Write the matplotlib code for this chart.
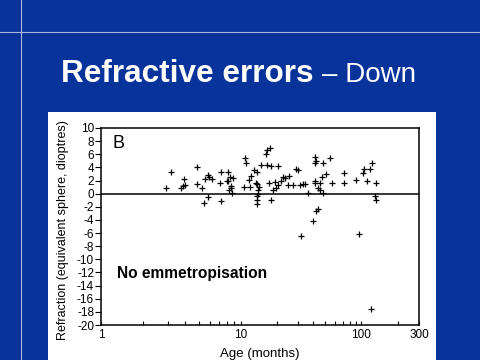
import numpy as np
import matplotlib
matplotlib.use('Agg')
import matplotlib.pyplot as plt
from matplotlib.patches import Rectangle
from matplotlib.lines import Line2D
from matplotlib.ticker import FixedLocator, NullFormatter

plt.rcParams['font.family'] = ['Liberation Sans', 'DejaVu Sans']
plt.rcParams['axes.unicode_minus'] = False

# age in months, refraction in dioptres
ages = [2.9, 3.17, 3.72, 3.85, 3.95, 3.99, 4.86, 4.89, 5.34, 5.49, 5.61, 5.8, 5.8, 6.2,
        5.96, 7.14, 7.23, 7.23, 8.15, 8.07, 8.28, 8.52, 8.85, 8.62, 8.38, 7.94, 8.48,
        10.9, 11.0, 10.6, 11.9, 11.8, 12.3, 12.9, 13.6, 13.4, 13.8, 14.7, 14.2, 14.0,
        13.9, 13.6, 13.6, 13.6,
        16.7, 18.0, 20.5, 16.4, 16.7, 17.5, 17.2, 19.2, 18.6, 19.5, 18.0,
        21.8, 22.5, 23.5, 25.2, 24.7, 27.2, 28.6, 29.9, 30.9, 34.0, 36.2, 31.5,
        42.5, 43.8, 39.8, 41.1, 41.1, 42.5, 48.2, 54.7, 51.4, 47.6, 41.1, 41.1, 45.2,
        43.8, 45.2, 48.2, 57.6,
        71.4, 71.4, 91.0, 103, 106, 117, 123, 111, 131, 129, 133, 95.5, 121,
        32.9, 20.5]
refraction = [0.9, 3.3, 0.8, 1.1, 2.3, 1.3, 4.0, 1.4, 0.8, -1.4, 2.3, 2.8, -0.5, 2.3,
              2.6, 1.6, 3.3, -1.1, 3.3, 2.0, 0.5, 1.1, 2.4, 0.1, 2.5, 1.9, 0.8,
              5.4, 4.6, 1.0, 1.0, 2.1, 2.7, 3.6, 3.3, 1.7, 1.5, 4.3, 1.0, 0.5,
              0.0, -0.3, -1.0, -1.6,
              4.3, 4.2, 4.2, 6.1, 6.6, 6.9, 1.7, 1.8, 0.5, 0.8, -0.9,
              2.0, 2.6, 2.4, 2.7, 1.3, 1.3, 3.7, 3.6, 1.3, 1.5, 0.15, -6.5,
              -2.6, -2.3, -4.2, 5.6, 4.6, 5.0, 4.7, 5.4, 3.0, 2.6, 2.0, 1.6, 1.6,
              0.9, 0.5, 0.15, 1.6,
              3.2, 1.7, 2.1, 3.1, 3.8, 3.8, 4.6, 2.0, 1.6, -0.4, -0.9, -6.2, -17.5,
              1.4, 1.3]

x_major = [1, 10, 100, 300]
x_minor = [2, 3, 4, 5, 6, 7, 8, 9, 20, 30, 40, 50, 60, 70, 80, 90, 200]
y_ticks = list(range(-20, 11, 2))

# the original axis has a slightly stretched first decade
K = 1.1545


def fwd(x):
    lx = np.log10(np.clip(x, 1e-6, None))
    return np.where(lx < 1, lx * K, K + (lx - 1))


def inv(t):
    t = np.asarray(t, dtype=float)
    return np.where(t < K, 10 ** (t / K), 10 ** (t - K + 1))


blue = '#07339b'
fig = plt.figure(figsize=(4.8, 3.6), dpi=100, facecolor=blue)

# slide decoration
fig.add_artist(Line2D([0, 1], [1 - 32 / 360] * 2, color='#aab6dc', lw=0.8))
fig.add_artist(Line2D([21 / 480] * 2, [0, 1], color='#aab6dc', lw=0.8))
fig.add_artist(Rectangle((48 / 480, 0), 388 / 480, 248 / 360, transform=fig.transFigure,
                         facecolor='white', edgecolor='none', zorder=0))

fig.text(61 / 480, 1 - 81.5 / 360, 'Refractive errors', color='white', fontsize=22.7,
         fontweight='bold', va='baseline', ha='left')
fig.text(322 / 480, 1 - 81.5 / 360, '\u2013 Down', color='white', fontsize=20,
         va='baseline', ha='left')

ax = fig.add_axes([101 / 480, 1 - 325 / 360, 318 / 480, 197 / 360])
ax.set_facecolor('white')
ax.plot(ages, refraction, linestyle='none', marker='+', color='black', ms=4.5, mew=0.9)
ax.axhline(0, color='black', lw=1.1)

ax.set_xscale('function', functions=(fwd, inv))
ax.set_xlim(1, 300)
ax.set_ylim(-20, 10)
ax.xaxis.set_major_locator(FixedLocator(x_major))
ax.xaxis.set_minor_locator(FixedLocator(x_minor))
ax.xaxis.set_minor_formatter(NullFormatter())
ax.set_xticklabels([str(v) for v in x_major])
ax.set_yticks(y_ticks)
ax.tick_params(axis='x', which='both', direction='in', length=3, width=0.8,
               labelsize=8.5, pad=3)
ax.tick_params(axis='y', direction='out', length=4, width=0.8, labelsize=8.5, pad=1)
for s in ax.spines.values():
    s.set_linewidth(1.1)

ax.set_xlabel('Age (months)', fontsize=9.5)
ax.xaxis.set_label_coords(0.5, -0.115)
ax.set_ylabel('Refraction (equivalent sphere, dioptres)', fontsize=9)
ax.yaxis.set_label_coords(-0.10, 0.48)

ax.text(0.035, 0.965, 'B', transform=ax.transAxes, fontsize=13, va='top', ha='left')
ax.text(1.3, -12.2, 'No emmetropisation', fontsize=11.2, fontweight='bold', va='center',
        ha='left')

fig.savefig('out.png', dpi=100, facecolor=blue)
